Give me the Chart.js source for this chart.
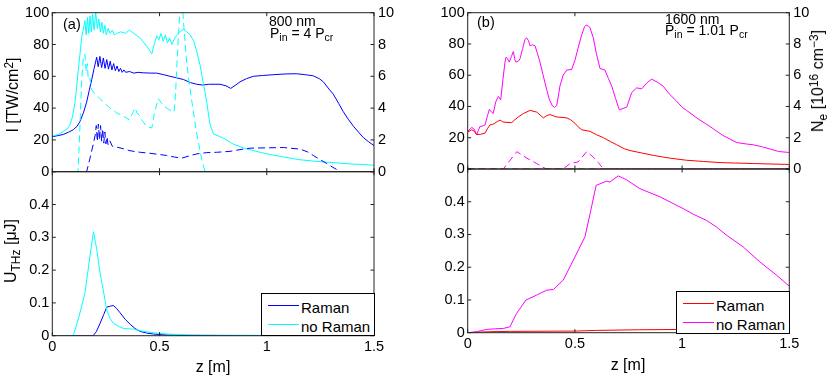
<!DOCTYPE html>
<html>
<head>
<meta charset="utf-8">
<script src="https://cdn.jsdelivr.net/npm/chart.js@4.4.0/dist/chart.umd.min.js"></script>
<style>
body{margin:0;background:#fff}
#wrap{position:relative;width:830px;height:376px;overflow:hidden;font-family:"Liberation Sans",Arial,sans-serif;color:#000}
canvas{position:absolute;left:0;top:0}
.t{position:absolute;white-space:nowrap;line-height:1}
.ann{font-size:14px}
.lab{font-size:16px}
.rot{transform:translate(-50%,-50%) rotate(-90deg)}
.sb{font-size:75%;position:relative;top:0.3em}
.sp{font-size:75%;position:relative;top:-0.45em}
.leg{position:absolute;background:#fff;border:1px solid #000;box-sizing:border-box;font-size:15px}
.leg .ln{position:absolute;left:6px;width:31px;height:1px}
.leg .tx{position:absolute;left:39px;line-height:1;transform:translateY(-50%)}
</style>
</head>
<body>
<div id="wrap">
<canvas id="tl" width="830" height="376"></canvas>
<canvas id="bl" width="830" height="376"></canvas>
<canvas id="tr" width="830" height="376"></canvas>
<canvas id="br" width="830" height="376"></canvas>

<div class="t" style="left:63px;top:17px;font-size:14.5px">(a)</div>
<div class="t" style="left:477px;top:15px;font-size:14.5px">(b)</div>
<div class="t ann" style="left:269px;top:14.2px">800 nm</div>
<div class="t ann" style="left:270px;top:25.5px">P<span class="sb">in</span> = 4 P<span class="sb">cr</span></div>
<div class="t ann" style="left:665px;top:11.5px">1600 nm</div>
<div class="t ann" style="left:665px;top:23.2px">P<span class="sb">in</span> = 1.01 P<span class="sb">cr</span></div>

<div class="t lab rot" style="left:13px;top:95px">I [TW/cm<span class="sp">2</span>]</div>
<div class="t lab rot" style="left:11px;top:251px">U<span class="sb">THz</span> [μJ]</div>
<div class="t lab rot" style="left:818px;top:81px">N<span class="sb">e</span> [10<span class="sp">16</span> cm<span class="sp">−3</span>]</div>
<div class="t lab" style="left:213px;top:367px;transform:translate(-50%,-50%)">z [m]</div>
<div class="t lab" style="left:628px;top:365px;transform:translate(-50%,-50%)">z [m]</div>
</div>

<script>
// panel (a): 800 nm
const aRamanZ = [0,0.03,0.051,0.075,0.098,0.115,0.129,0.145,0.16,0.172,0.184,0.195,0.207,0.214,0.222,0.23,0.238,0.246,0.254,0.262,0.27,0.278,0.286,0.294,0.302,0.31,0.318,0.326,0.334,0.342,0.36,0.38,0.4,0.424,0.46,0.486,0.52,0.549,0.58,0.611,0.645,0.673,0.7,0.73,0.782,0.81,0.832,0.855,0.875,0.905,0.938,0.98,1.03,1.09,1.14,1.18,1.217,1.245,1.264,1.29,1.31,1.335,1.357,1.38,1.404,1.43,1.45,1.475,1.5];
const aRamanI = [22,22.8,23.4,24.8,26.4,28.5,31.5,37,43.7,51,58,65,72,66,72.5,65.5,71.5,65,70.5,64.5,69.5,64,68,63.5,66.5,63,65,62.5,64,62.5,63,62,62.5,62.2,62,62,61,60,59,58,56,55,54.5,55,55,54,52.4,54.5,56.5,58.5,60,60.5,61,61.5,61.6,61,60.3,58.5,56.5,52,48.8,43,37.7,33,28.6,24.5,21.5,18.8,16.4];

const aFreeZ = [0,0.03,0.051,0.07,0.083,0.095,0.106,0.114,0.121,0.13,0.137,0.145,0.152,0.158,0.164,0.17,0.176,0.182,0.188,0.195,0.2025,0.21,0.217,0.224,0.231,0.238,0.245,0.252,0.26,0.27,0.28,0.29,0.3,0.32,0.34,0.36,0.38,0.41,0.44,0.464,0.475,0.487,0.497,0.507,0.517,0.527,0.537,0.547,0.557,0.567,0.58,0.595,0.611,0.627,0.643,0.66,0.673,0.689,0.704,0.72,0.735,0.751,0.8,0.844,0.9,1.0,1.08,1.155,1.23,1.31,1.4,1.5];
const aFreeI = [22.4,23.5,25.4,27,29.5,35,43.7,54,64,75,84.4,90,95,86,97,87,98,88,99,89,100,90,96,88,94,87,92,86,90,87,89,86,87,88,87,89,87,84,79,74.2,80,85.5,83,87,82,86,81,84,80,83,86,88,89.5,88,86,82,76,67,56,43.7,30,23.8,21,17.3,14.5,11.2,9.2,7.5,6.5,5.7,4.8,4.1];

const aFreeNeZ = [0,0.12,0.128,0.136,0.145,0.152,0.158,0.163,0.168,0.175,0.183,0.191,0.2,0.222,0.245,0.269,0.3,0.33,0.36,0.375,0.386,0.395,0.405,0.42,0.44,0.464,0.475,0.494,0.51,0.525,0.545,0.568,0.575,0.582,0.59,0.596,0.607,0.617,0.627,0.642,0.658,0.672,0.689,0.7,0.712,1.5];
const aFreeNe = [0,0,2.5,5.5,7.3,7.4,6.3,6.8,5.8,5.9,5.2,5,4.9,4.6,4.3,4,3.7,3.5,3.25,3.7,4,3.7,3.55,3.2,2.85,2.75,3.6,4.6,4.3,4.07,3.9,3.76,5,7,9,10.3,10.3,8.5,6.8,5.2,3.76,2.5,1.3,0.6,0,0];

const aRamanNeZ = [0,0.16,0.175,0.191,0.2,0.205,0.21,0.215,0.22,0.225,0.23,0.235,0.24,0.245,0.25,0.255,0.26,0.268,0.28,0.3,0.33,0.362,0.41,0.455,0.5,0.533,0.57,0.603,0.64,0.673,0.72,0.766,0.829,0.88,0.922,1.0,1.077,1.155,1.19,1.217,1.25,1.28,1.305,1.326,1.345,1.5];
const aRamanNe = [0,0,0.8,1.73,2.3,2.9,1.9,3,2,2.9,1.9,2.7,1.8,2.5,1.75,2.2,1.7,1.95,1.6,1.55,1.45,1.32,1.22,1.16,1.08,1.02,0.92,0.85,1,1.12,1.2,1.22,1.28,1.4,1.48,1.5,1.52,1.42,1.25,1.02,0.75,0.51,0.3,0.14,0,0];

const aRamanUZ = [0,0.19,0.205,0.223,0.24,0.254,0.27,0.285,0.3,0.316,0.34,0.363,0.385,0.41,0.44,0.472,0.51,0.6,1.5];
const aRamanU = [0,0,0.012,0.038,0.065,0.087,0.09,0.092,0.083,0.07,0.05,0.035,0.022,0.013,0.008,0.005,0.003,0.001,0];
const aFreeUZ = [0,0.098,0.125,0.152,0.175,0.192,0.208,0.223,0.24,0.254,0.27,0.285,0.31,0.332,0.378,0.42,0.456,0.534,0.65,0.8,1,1.5];
const aFreeU = [0,0,0.06,0.129,0.24,0.317,0.26,0.19,0.13,0.078,0.052,0.038,0.028,0.022,0.02,0.014,0.01,0.005,0.002,0.001,0.001,0.001];

// panel (b): 1600 nm
const bFreeZ = [0,0.019,0.03,0.042,0.057,0.07,0.081,0.092,0.101,0.11,0.119,0.131,0.143,0.154,0.164,0.174,0.179,0.186,0.194,0.204,0.213,0.22,0.225,0.236,0.244,0.256,0.267,0.275,0.284,0.291,0.302,0.314,0.325,0.337,0.352,0.368,0.382,0.396,0.405,0.415,0.422,0.43,0.445,0.462,0.485,0.5,0.516,0.532,0.545,0.552,0.562,0.57,0.586,0.6,0.617,0.64,0.656,0.672,0.69,0.707,0.72,0.742,0.765,0.788,0.812,0.835,0.858,0.885,0.912,0.94,0.97,1.0,1.021,1.075,1.13,1.19,1.255,1.3,1.332,1.37,1.41,1.45,1.488,1.5];
const bFreeI = [24.1,26.6,25.5,22,27.2,27.5,28.2,34,38.2,36.5,35.5,43,46.4,44.3,57,68.4,71.5,70.5,68.4,72,75.2,70,68.4,69,70.5,77,82.9,83.9,82,78.8,79.5,78.8,74,68.4,60,50.9,44,40.2,39.5,40.6,46,53,60,63.3,63.7,69.4,78,86,91,92.1,91.5,90.5,83.9,74,64.3,63.3,58,53,45,37.9,38.5,39.6,48.9,51.9,51.3,55,57.5,55.5,53,48,44,39.5,37.5,32,27.2,21.5,16.9,16,15.5,14.3,12.8,11.2,10.7,10.6];

const bRamanZ = [0,0.019,0.03,0.042,0.06,0.081,0.093,0.104,0.115,0.127,0.14,0.151,0.163,0.174,0.205,0.22,0.236,0.26,0.291,0.322,0.338,0.353,0.37,0.384,0.4,0.415,0.44,0.462,0.48,0.5,0.515,0.532,0.57,0.6,0.633,0.665,0.695,0.73,0.757,0.81,0.866,0.94,1.02,1.1,1.177,1.25,1.332,1.41,1.5];
const bRamanI = [23.7,25.1,24.2,22,22.2,23,26,28.2,28.5,29.3,30.5,31.3,30.2,29.9,29.7,31.5,33.3,35.5,37.5,36.4,34.5,32.7,34.3,34.8,34,33.3,33,32.7,31.5,29.3,27,25.1,24.1,22,20,17.6,15.5,13,11.8,10.3,8.7,7,5.6,4.8,4.1,3.8,3.5,3.2,2.9];

const bFreeNeZ = [0,0.166,0.229,0.275,0.322,0.345,0.368,0.446,0.477,0.515,0.555,0.586,0.61,0.633,1.5];
const bFreeNe = [0,0,1.11,0.7,0.35,0.15,0,0,0.35,0.45,1.11,0.76,0.4,0,0];
const bRamanNeZ = [0,1.5];
const bRamanNe = [0,0];

const bFreeUZ = [0,0.042,0.088,0.13,0.166,0.197,0.228,0.272,0.322,0.369,0.4,0.446,0.493,0.547,0.571,0.599,0.648,0.663,0.702,0.741,0.803,0.897,1.005,1.052,1.114,1.16,1.207,1.285,1.363,1.44,1.5];
const bFreeU = [0,0.003,0.01,0.012,0.013,0.018,0.059,0.1,0.115,0.13,0.132,0.161,0.222,0.293,0.364,0.45,0.463,0.46,0.479,0.467,0.44,0.415,0.379,0.362,0.343,0.323,0.298,0.262,0.216,0.176,0.142];
const bRamanUZ = [0,0.1,0.2,0.5,0.6,0.8,1.0,1.25,1.5];
const bRamanU = [0,0.003,0.004,0.005,0.007,0.009,0.01,0.011,0.012];

const BLUE = '#0000ff', CYAN = '#00ffff', RED = '#ff0000', MAGENTA = '#ff00ff';
const legendLabels = ['Raman', 'no Raman'];

Chart.defaults.font.family = '"Liberation Sans", Arial, sans-serif';
Chart.defaults.font.size = 14.5;
Chart.defaults.color = '#000';

const boxTicks = {
  id: 'boxTicks',
  afterDraw(chart) {
    const {ctx, chartArea: a, scales} = chart;
    const t = 3.5;
    ctx.save();
    ctx.strokeStyle = '#222';
    ctx.lineWidth = 1;
    ctx.strokeRect(a.left, a.top, a.right - a.left, a.bottom - a.top);
    ctx.beginPath();
    scales.x.ticks.forEach(tk => {
      const p = scales.x.getPixelForValue(tk.value);
      ctx.moveTo(p, a.bottom); ctx.lineTo(p, a.bottom - t);
      ctx.moveTo(p, a.top); ctx.lineTo(p, a.top + t);
    });
    scales.y.ticks.forEach(tk => {
      const p = scales.y.getPixelForValue(tk.value);
      ctx.moveTo(a.left, p); ctx.lineTo(a.left + t, p);
      ctx.moveTo(a.right, p); ctx.lineTo(a.right - t, p);
    });
    ctx.stroke();
    ctx.restore();
  }
};

function line(zs, vs, color, dashed, axis) {
  return {
    data: zs.map((z, i) => ({x: z, y: vs[i]})),
    borderColor: color,
    borderWidth: 1,
    borderDash: dashed ? [7, 4] : [],
    pointRadius: 0,
    fill: false,
    tension: 0,
    yAxisID: axis || 'y'
  };
}

function panel(id, pad, sets, yMax, yStep, yLabel, right, showX) {
  const scales = {
    x: {
      type: 'linear', min: 0, max: 1.5,
      grid: {display: false, drawTicks: false}, border: {display: false},
      ticks: {display: showX, stepSize: 0.5, padding: 3, maxRotation: 0, autoSkip: false, callback: v => String(v)},
      afterFit: s => { s.height = showX ? 20 : 0; }
    },
    y: {
      type: 'linear', position: 'left', min: 0, max: yMax,
      grid: {display: false, drawTicks: false}, border: {display: false},
      ticks: {stepSize: yStep, padding: 3, autoSkip: false, callback: yLabel},
      afterFit: s => { s.width = 40; }
    }
  };
  if (right) {
    scales.y2 = {
      type: 'linear', position: 'right', min: 0, max: 10,
      grid: {display: false, drawTicks: false}, border: {display: false},
      ticks: {stepSize: 2, padding: 4, autoSkip: false},
      afterFit: s => { s.width = 40; }
    };
  }
  new Chart(document.getElementById(id), {
    type: 'line',
    data: {datasets: sets},
    options: {
      responsive: false, animation: false, devicePixelRatio: 1, events: [],
      layout: {padding: pad},
      plugins: {legend: {display: false}, tooltip: {enabled: false}},
      scales: scales
    },
    plugins: [boxTicks]
  });
}

const topLab = v => String(v);
const botLab = v => v > 0.45 ? '' : String(v);

panel('tl', {left: 12.3, right: 416, top: 7.5, bottom: 204.3}, [
  line(aFreeNeZ, aFreeNe, CYAN, true, 'y2'),
  line(aRamanNeZ, aRamanNe, BLUE, true, 'y2'),
  line(aFreeZ, aFreeI, CYAN),
  line(aRamanZ, aRamanI, BLUE)
], 100, 20, topLab, true, false);

panel('bl', {left: 12.3, right: 456, top: 171.7, bottom: 20.3}, [
  line(aFreeUZ, aFreeU, CYAN),
  line(aRamanUZ, aRamanU, BLUE)
], 0.5, 0.1, botLab, false, true);

panel('tr', {left: 427.7, right: 0.7, top: 6.5, bottom: 207}, [
  line(bRamanNeZ, bRamanNe, RED, true, 'y2'),
  line(bFreeNeZ, bFreeNe, MAGENTA, true, 'y2'),
  line(bRamanZ, bRamanI, RED),
  line(bFreeZ, bFreeI, MAGENTA)
], 100, 20, topLab, true, false);

panel('br', {left: 427.7, right: 40.7, top: 169, bottom: 23.3}, [
  line(bRamanUZ, bRamanU, RED),
  line(bFreeUZ, bFreeU, MAGENTA)
], 0.5, 0.1, botLab, false, true);

// legends
function legend(left, top, colors) {
  const box = document.createElement('div');
  box.className = 'leg';
  box.style.left = left + 'px';
  box.style.top = top + 'px';
  box.style.width = '114px';
  box.style.height = '43px';
  legendLabels.forEach((lbl, i) => {
    const y = 12 + i * 19;
    const ln = document.createElement('div');
    ln.className = 'ln';
    ln.style.top = (y - 1) + 'px';
    ln.style.background = colors[i];
    const tx = document.createElement('div');
    tx.className = 'tx';
    tx.style.top = (y + 0.5) + 'px';
    tx.textContent = lbl;
    box.appendChild(ln);
    box.appendChild(tx);
  });
  document.getElementById('wrap').appendChild(box);
}
legend(261, 293, [BLUE, CYAN]);
legend(676, 291, [RED, MAGENTA]);
</script>
</body>
</html>
